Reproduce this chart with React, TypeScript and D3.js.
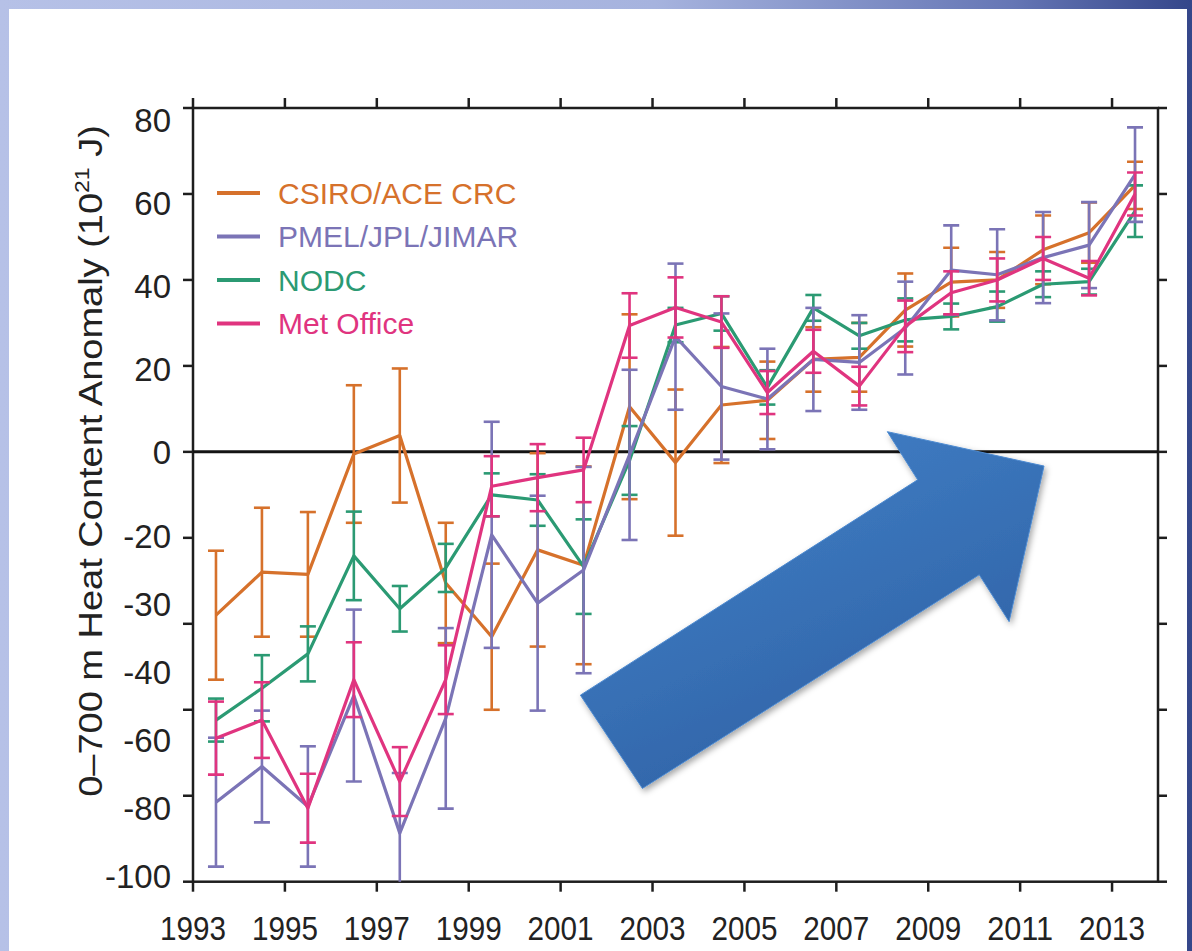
import React, { useEffect, useRef } from 'react';
import * as d3 from 'd3';

// mid-year points, 1993.5 .. 2013.5
const years = [
  1993.5, 1994.5, 1995.5, 1996.5, 1997.5, 1998.5, 1999.5, 2000.5, 2001.5, 2002.5, 2003.5,
  2004.5, 2005.5, 2006.5, 2007.5, 2008.5, 2009.5, 2010.5, 2011.5, 2012.5, 2013.5,
];

const csiro = [-38, -28, -28.5, -0.5, 3.8, -30.5, -43, -22.8, -26.4, 10.5, -2.5, 10.9, 12, 21.5, 22, 33, 39.5, 40, 47, 51, 62];
const csiroErr = [15, 15, 14.5, 16, 15.6, 14, 17, 22.5, 23, 21.5, 17, 13.5, 9, 7.5, 8, 8.5, 8, 6.5, 8, 7, 5.5];

const pmel = [-81.5, -73.2, -82.5, -56.7, -88.7, -62, -19.3, -35.2, -27.5, -0.7, 26.8, 15.2, 12.3, 21.5, 20.8, 28.8, 42.3, 41.2, 45.2, 48.1, 64.5];
const pmelErr = [15, 13, 14, 20, 14, 21, 26.3, 25, 24, 19.8, 17, 17, 11.7, 12, 11, 10.8, 10.4, 10.6, 10.6, 10, 11];

const nodc = [-62.4, -55, -47, -24.2, -36.5, -27, -10, -11.2, -26.7, -2, 29.5, 32.2, 15, 33.5, 27, 30.7, 31.5, 33.8, 39, 39.6, 56];
const nodcErr = [5, 7.7, 6.4, 10.3, 5.3, 5.6, 5, 6, 11, 8, 4, 4, 4, 3, 3, 5, 3, 3.5, 3, 3, 6];

const metOffice = [-66.6, -62.4, -82.9, -53, -76.7, -53, -8, -6, -4.2, 29.4, 33.6, 30.2, 13.8, 23.4, 15.3, 29.2, 37, 40, 45, 40.4, 60];
const metOfficeErr = [8.5, 8.8, 8, 8.7, 8, 8, 7, 7.8, 7.5, 7.5, 7, 6, 5, 5, 4.5, 6, 5, 5, 5, 4, 5];

const seriesNames = ['CSIRO/ACE CRC', 'PMEL/JPL/JIMAR', 'NODC', 'Met Office'];
const seriesColors = ['#d6712b', '#7b74b6', '#2b9a73', '#e0347f'];
const seriesValues = [csiro, pmel, nodc, metOffice];
const seriesErrors = [csiroErr, pmelErr, nodcErr, metOfficeErr];
const drawOrder = [0, 2, 1, 3];

const xTickYears = [1993, 1995, 1997, 1999, 2001, 2003, 2005, 2007, 2009, 2011, 2013];
const yTicks = [80, 60, 40, 20, 0, -20, -40, -60, -80, -100];
// the tick labels as printed on the figure
const yLabelsUpper = ['80', '60', '40', '20', '0'];
const yLabelsLower = ['-20', '-30', '-40', '-60', '-80', '-100'];

// block arrow overlay, in [year, value]
const arrowPoints: [number, number][] = [
  [2001.43, -56.6], [2008.77, -6.5], [2008.11, 4.7], [2011.52, -3.3],
  [2010.76, -39.5], [2010.11, -28.6], [2002.78, -78.3],
];

const W = 1192;
const H = 951;
const FONT = '"Liberation Sans", Arial, Helvetica, sans-serif';

function App() {
  const ref = useRef<SVGSVGElement | null>(null);

  useEffect(() => {
    drawChart();
  }, []);

  function drawChart() {
    const svg = d3.select(ref.current);
    svg.selectAll('*').remove();

    const x = d3.scaleLinear().domain([1993, 2014]).range([193, 1158]);
    const y = d3.scaleLinear().domain([-100, 80]).range([881.7, 108]);

    const defs = svg.append('defs');
    const bg = defs.append('linearGradient').attr('id', 'bg').attr('x1', 0).attr('x2', 1).attr('y1', 0).attr('y2', 0);
    bg.append('stop').attr('offset', 0).attr('stop-color', '#b6c1e7');
    bg.append('stop').attr('offset', 0.55).attr('stop-color', '#a6b3de');
    bg.append('stop').attr('offset', 0.85).attr('stop-color', '#6576b5');
    bg.append('stop').attr('offset', 1).attr('stop-color', '#34468a');

    const ag = defs.append('linearGradient').attr('id', 'arrowFill').attr('x1', 0).attr('x2', 0.6).attr('y1', 0).attr('y2', 1);
    ag.append('stop').attr('offset', 0).attr('stop-color', '#4384cc');
    ag.append('stop').attr('offset', 1).attr('stop-color', '#2f61a4');

    defs.append('clipPath').attr('id', 'plotClip')
      .append('rect')
      .attr('x', x(1993)).attr('y', y(80))
      .attr('width', x(2014) - x(1993)).attr('height', y(-100) - y(80));

    const shadow = defs.append('filter').attr('id', 'shadow').attr('x', -0.1).attr('y', -0.1).attr('width', 1.3).attr('height', 1.3);
    shadow.append('feDropShadow').attr('dx', 2).attr('dy', 3).attr('stdDeviation', 3).attr('flood-color', '#000').attr('flood-opacity', 0.35);

    // slide background + white panel
    svg.append('rect').attr('width', W).attr('height', H).attr('fill', 'url(#bg)');
    svg.append('rect').attr('x', 9).attr('y', 9).attr('width', 1178).attr('height', H).attr('fill', '#ffffff');

    // axes frame
    const frame = svg.append('g').attr('stroke', '#1e1e1e').attr('stroke-width', 2.5).attr('fill', 'none');
    frame.append('rect')
      .attr('x', x(1993)).attr('y', y(80))
      .attr('width', x(2014) - x(1993)).attr('height', y(-100) - y(80));

    xTickYears.forEach((yr) => {
      frame.append('line').attr('x1', x(yr)).attr('x2', x(yr)).attr('y1', y(80)).attr('y2', y(80) - 10);
      frame.append('line').attr('x1', x(yr)).attr('x2', x(yr)).attr('y1', y(-100)).attr('y2', y(-100) + 10);
    });
    yTicks.forEach((v) => {
      frame.append('line').attr('x1', x(1993)).attr('x2', x(1993) - 10).attr('y1', y(v)).attr('y2', y(v));
      frame.append('line').attr('x1', x(2014)).attr('x2', x(2014) + 9).attr('y1', y(v)).attr('y2', y(v));
    });

    // zero line
    svg.append('line')
      .attr('x1', x(1993)).attr('x2', x(2014))
      .attr('y1', y(0)).attr('y2', y(0))
      .attr('stroke', '#141414').attr('stroke-width', 3);

    // x labels (condensed like the figure)
    svg.append('g').selectAll('text')
      .data(xTickYears)
      .enter()
      .append('text')
      .attr('x', (d) => x(d) - 33)
      .attr('y', 940)
      .attr('textLength', 66)
      .attr('lengthAdjust', 'spacingAndGlyphs')
      .attr('font-family', FONT)
      .attr('font-size', 34)
      .attr('fill', '#222')
      .text((d) => String(d));

    // y labels
    const upper = d3.scalePoint().domain(yLabelsUpper).range([y(80) + 12, y(0) + 1]);
    const lower = d3.scalePoint().domain(yLabelsLower).range([y(-20) - 1, y(-100) - 5]);
    const yl = svg.append('g')
      .attr('font-family', FONT).attr('font-size', 33).attr('fill', '#222')
      .attr('text-anchor', 'end').attr('dominant-baseline', 'central');
    yLabelsUpper.forEach((l) => yl.append('text').attr('x', 171).attr('y', upper(l) as number).text(l));
    yLabelsLower.forEach((l) => yl.append('text').attr('x', 171).attr('y', lower(l) as number).text(l));

    // y title
    const title = svg.append('text')
      .attr('transform', 'translate(102,461) rotate(-90) scale(1,0.85)')
      .attr('text-anchor', 'middle')
      .attr('font-family', FONT)
      .attr('font-size', 38)
      .attr('fill', '#222');
    title.append('tspan').text('0–700 m Heat Content Anomaly (10');
    title.append('tspan').attr('font-size', 23).attr('dy', -15).text('21');
    title.append('tspan').attr('dy', 15).text(' J)');

    // series
    const plot = svg.append('g').attr('clip-path', 'url(#plotClip)');
    const line = d3.line<number>()
      .x((_, i) => x(years[i]))
      .y((d) => y(d));

    drawOrder.forEach((s) => {
      const g = plot.append('g').attr('stroke', seriesColors[s]).attr('fill', 'none');
      const vals = seriesValues[s];
      const errs = seriesErrors[s];
      const bars = g.selectAll('g.bar').data(vals).enter().append('g').attr('stroke-width', 2.6);
      bars.append('line')
        .attr('x1', (_, i) => x(years[i])).attr('x2', (_, i) => x(years[i]))
        .attr('y1', (d, i) => y(d + errs[i])).attr('y2', (d, i) => y(d - errs[i]));
      bars.append('line')
        .attr('x1', (_, i) => x(years[i]) - 8).attr('x2', (_, i) => x(years[i]) + 8)
        .attr('y1', (d, i) => y(d + errs[i])).attr('y2', (d, i) => y(d + errs[i]));
      bars.append('line')
        .attr('x1', (_, i) => x(years[i]) - 8).attr('x2', (_, i) => x(years[i]) + 8)
        .attr('y1', (d, i) => y(d - errs[i])).attr('y2', (d, i) => y(d - errs[i]));
      g.append('path')
        .attr('d', line(vals) as string)
        .attr('stroke-width', 3.2)
        .attr('stroke-linejoin', 'round');
    });

    // legend
    const lg = svg.append('g').attr('font-family', FONT).attr('font-size', 30);
    seriesNames.forEach((name, i) => {
      const ly = 193 + i * 43.5;
      lg.append('line')
        .attr('x1', 217).attr('x2', 260).attr('y1', ly).attr('y2', ly)
        .attr('stroke', seriesColors[i]).attr('stroke-width', 4);
      lg.append('text')
        .attr('x', 278).attr('y', ly)
        .attr('dominant-baseline', 'central')
        .attr('fill', seriesColors[i])
        .text(name);
    });

    // arrow overlay
    svg.append('polygon')
      .attr('points', arrowPoints.map(([a, b]) => `${x(a)},${y(b)}`).join(' '))
      .attr('fill', 'url(#arrowFill)')
      .attr('stroke', '#4d8ad0')
      .attr('stroke-width', 1)
      .attr('filter', 'url(#shadow)');
  }

  return (
    <svg
      ref={ref}
      width={W}
      height={H}
      style={{ position: 'absolute', left: 0, top: 0, display: 'block' }}
    />
  );
}

export default App;
